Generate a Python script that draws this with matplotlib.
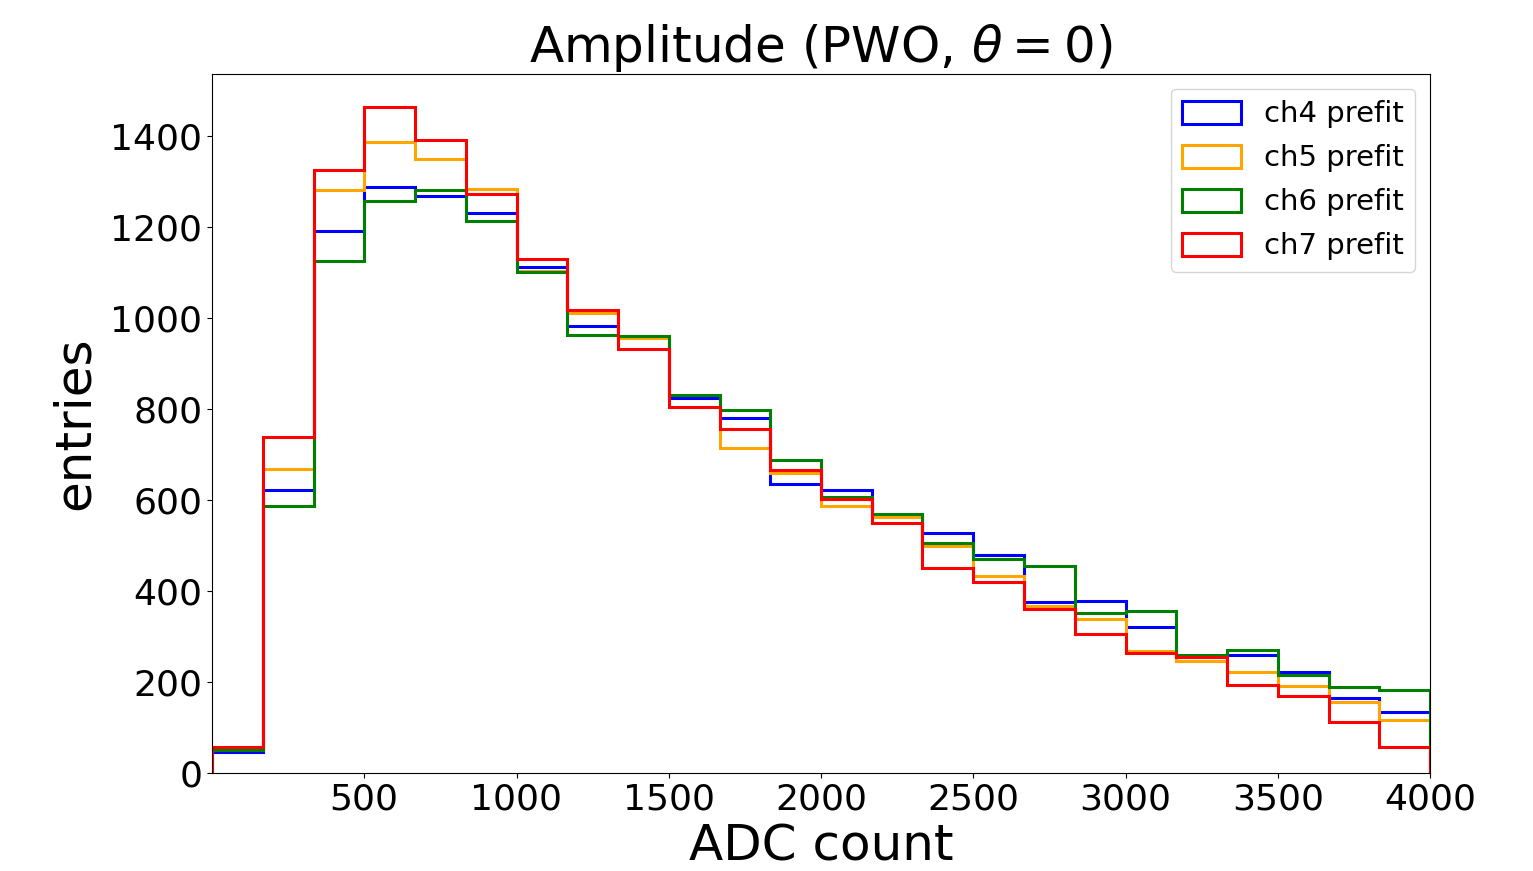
import numpy as np
import matplotlib.pyplot as plt


BIN_EDGES = np.linspace(0, 4000, 25)
CHANNELS = ['ch4 prefit', 'ch5 prefit', 'ch6 prefit', 'ch7 prefit']
COLORS = ['blue', 'orange', 'green', 'red']

CH4 = [47, 621, 1190, 1288, 1268, 1231, 1112, 982, 958, 824, 781, 634,
	621, 567, 528, 480, 375, 378, 320, 257, 260, 223, 165, 133]
CH5 = [50, 667, 1281, 1387, 1349, 1283, 1103, 1010, 955, 831, 715, 659,
	587, 563, 499, 433, 367, 338, 267, 246, 223, 191, 157, 116]
CH6 = [50, 587, 1125, 1257, 1281, 1212, 1100, 963, 961, 831, 797, 687,
	607, 569, 505, 471, 454, 351, 355, 259, 270, 216, 188, 182]
CH7 = [57, 738, 1326, 1464, 1391, 1272, 1130, 1018, 932, 805, 755, 665,
	603, 549, 450, 420, 360, 306, 263, 254, 193, 169, 113, 58]


def main():
	centers = 0.5 * (BIN_EDGES[:-1] + BIN_EDGES[1:])
	fig = plt.figure(figsize=(15.33, 8.71), dpi=100)
	ax = fig.add_axes([212 / 1533, 1 - 773 / 871, (1430 - 212) / 1533, (773 - 74) / 871])
	for counts, color, label in zip([CH4, CH5, CH6, CH7], COLORS, CHANNELS):
		ax.hist(centers, bins=BIN_EDGES, weights=counts, histtype='step',
			color=color, linewidth=2.2, label=label)
	ax.set_xlim(0, 4000)
	ax.set_ylim(0, 1536)
	ax.set_xticks([500, 1000, 1500, 2000, 2500, 3000, 3500, 4000])
	ax.set_yticks(range(0, 1401, 200))
	ax.tick_params(labelsize=26)
	ax.set_xlabel('ADC count', fontsize=36, labelpad=4)
	ax.set_ylabel('entries', fontsize=36, labelpad=8)
	ax.set_title(r'Amplitude (PWO, $\theta = 0$)', fontsize=36, pad=6)
	ax.legend(loc='upper right', fontsize=21, handleheight=0.85, labelspacing=0.55)
	fig.savefig('out.png', dpi=100)


if __name__ == '__main__':
	main()
